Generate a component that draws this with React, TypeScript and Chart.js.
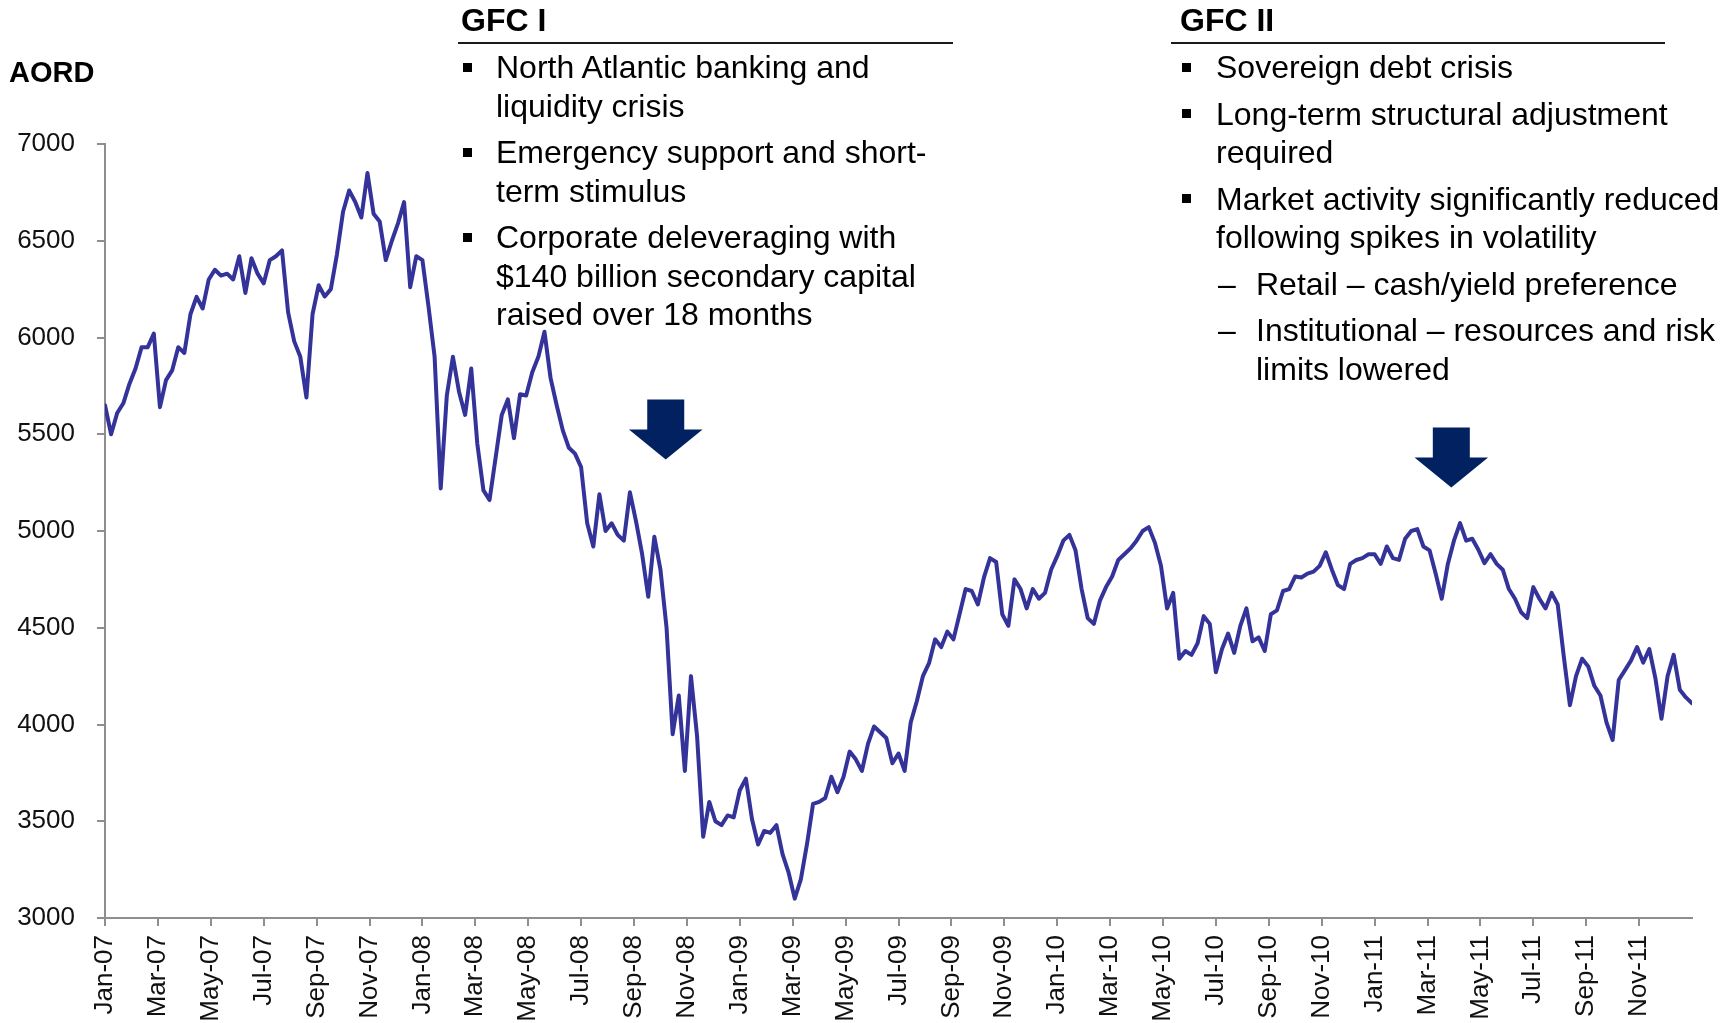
import React, { useEffect, useRef } from 'react';
import { Chart, registerables } from 'chart.js';

Chart.register(...registerables);

// ---- Data (weekly AORD readings, Jan 2007 – Dec 2011) ----
const xTickLabels = [
  'Jan-07', 'Mar-07', 'May-07', 'Jul-07', 'Sep-07', 'Nov-07',
  'Jan-08', 'Mar-08', 'May-08', 'Jul-08', 'Sep-08', 'Nov-08',
  'Jan-09', 'Mar-09', 'May-09', 'Jul-09', 'Sep-09', 'Nov-09',
  'Jan-10', 'Mar-10', 'May-10', 'Jul-10', 'Sep-10', 'Nov-10',
  'Jan-11', 'Mar-11', 'May-11', 'Jul-11', 'Sep-11', 'Nov-11',
];

const aord2007 = [
  5650, 5500, 5610, 5660, 5760, 5840, 5950, 5950, 6020, 5640, 5780, 5830, 5950,
  5920, 6120, 6210, 6150, 6300, 6350, 6320, 6330, 6300, 6420, 6230, 6410, 6330,
  6280, 6400, 6420, 6450, 6130, 5980, 5900, 5690, 6120, 6270, 6212, 6250, 6430,
  6650, 6760, 6700, 6620, 6850, 6640, 6600, 6400, 6500, 6590, 6700, 6260, 6420,
];
const aord2008 = [
  6400, 6160, 5900, 5220, 5700, 5900, 5720, 5600, 5840, 5450, 5210, 5160, 5380,
  5600, 5680, 5480, 5707, 5700, 5820, 5900, 6030, 5790, 5650, 5520, 5430, 5400,
  5330, 5040, 4920, 5190, 5000, 5040, 4980, 4950, 5200, 5050, 4880, 4660, 4970,
  4800, 4500, 3950, 4150, 3760, 4250, 3940, 3420, 3600, 3500, 3480, 3530, 3520,
];
const aord2009 = [
  3660, 3720, 3510, 3380, 3450, 3440, 3480, 3330, 3234, 3100, 3200, 3380, 3590,
  3600, 3620, 3730, 3650, 3730, 3860, 3820, 3760, 3900, 3990, 3960, 3930, 3800,
  3850, 3760, 4010, 4120, 4250, 4317, 4440, 4400, 4480, 4440, 4570, 4700, 4690,
  4620, 4760, 4860, 4840, 4570, 4510, 4750, 4700, 4600, 4700, 4650, 4680, 4800,
];
const aord2010 = [
  4870, 4950, 4980, 4900, 4700, 4550, 4520, 4640, 4710, 4765, 4850, 4880, 4910,
  4950, 5000, 5020, 4940, 4820, 4600, 4680, 4340, 4380, 4360, 4420, 4560, 4520,
  4270, 4390, 4470, 4370, 4510, 4600, 4430, 4450, 4380, 4570, 4590, 4690, 4700,
  4765, 4760, 4780, 4790, 4820, 4890, 4800, 4720, 4700, 4830, 4850, 4860, 4880,
];
const aord2011 = [
  4880, 4830, 4920, 4860, 4851, 4960, 5000, 5010, 4920, 4900, 4780, 4650, 4830,
  4950, 5041, 4950, 4960, 4903, 4834, 4880, 4830, 4800, 4700, 4650, 4580, 4550,
  4710, 4650, 4600, 4680, 4620, 4350, 4100, 4250, 4340, 4300, 4200, 4150, 4010,
  3920, 4230, 4280, 4330, 4400, 4320, 4390, 4240, 4030, 4250, 4360, 4180, 4140,
  4110,
];

// Arrow markers (tip position in data units: month index, AORD level)
const arrowTips = [
  { month: 21.2, value: 5370 },
  { month: 50.9, value: 5225 },
];

// Annotation texts
const yAxisTitle = 'AORD';
const gfc1Title = 'GFC I';
const gfc1Items = [
  ['North Atlantic banking and', 'liquidity crisis'],
  ['Emergency support and short-', 'term stimulus'],
  ['Corporate deleveraging with', '$140 billion secondary capital', 'raised over 18 months'],
];
const gfc2Title = 'GFC II';
const gfc2Items = [
  ['Sovereign debt crisis'],
  ['Long-term structural adjustment', 'required'],
  ['Market activity significantly reduced', 'following spikes in volatility'],
];
const gfc2SubItems = [
  ['Retail \u2013 cash/yield preference'],
  ['Institutional \u2013 resources and risk', 'limits lowered'],
];

const WEEKS_PER_YEAR = 52;
const weeklySeries = [...aord2007, ...aord2008, ...aord2009, ...aord2010, ...aord2011];

const FONT = "'Liberation Sans', Arial, Helvetica, sans-serif";
const LINE_COLOR = '#333399';
const AXIS_COLOR = '#8e8e8e';
const ARROW_COLOR = '#022160';
const TEXT_SIZE = 32;

const arrowPlugin = {
  id: 'gfcArrows',
  afterDatasetsDraw(chart: any) {
    const { ctx, scales } = chart;
    const xs = scales.x;
    const ys = scales.y;
    ctx.save();
    ctx.fillStyle = ARROW_COLOR;
    for (const a of arrowTips) {
      const tx = xs.getPixelForValue(a.month);
      const ty = ys.getPixelForValue(a.value);
      ctx.beginPath();
      ctx.moveTo(tx - 18.5, ty - 60);
      ctx.lineTo(tx + 18.5, ty - 60);
      ctx.lineTo(tx + 18.5, ty - 30);
      ctx.lineTo(tx + 36.8, ty - 30);
      ctx.lineTo(tx, ty);
      ctx.lineTo(tx - 36.8, ty - 30);
      ctx.lineTo(tx - 18.5, ty - 30);
      ctx.closePath();
      ctx.fill();
    }
    ctx.restore();
  },
};

function TextLine(props: { x: number; baseline: number; size?: number; bold?: boolean; children: any }) {
  const size = props.size ?? TEXT_SIZE;
  return (
    <div
      style={{
        position: 'absolute',
        left: props.x,
        top: props.baseline - 0.8465 * size,
        fontSize: size,
        lineHeight: `${size}px`,
        fontWeight: props.bold ? 'bold' : 'normal',
        whiteSpace: 'nowrap',
        color: '#000',
      }}
    >
      {props.children}
    </div>
  );
}

function Bullet(props: { x: number; baseline: number }) {
  return (
    <div
      style={{
        position: 'absolute',
        left: props.x,
        top: props.baseline - 15.5,
        width: 9,
        height: 9,
        background: '#000',
      }}
    />
  );
}

function Rule(props: { x1: number; x2: number; y: number }) {
  return (
    <div
      style={{
        position: 'absolute',
        left: props.x1,
        top: props.y - 1,
        width: props.x2 - props.x1,
        height: 2,
        background: '#1a1a1a',
      }}
    />
  );
}

export default function App() {
  const canvasRef = useRef<HTMLCanvasElement | null>(null);

  useEffect(() => {
    const canvas = canvasRef.current;
    if (!canvas) return;
    Chart.defaults.font.family = FONT;
    const points = weeklySeries.map((v, i) => ({ x: (i * 12) / WEEKS_PER_YEAR, y: v }));
    const chart = new Chart(canvas, {
      type: 'line',
      data: {
        datasets: [
          {
            label: 'AORD',
            data: points,
            borderColor: LINE_COLOR,
            backgroundColor: LINE_COLOR,
            borderWidth: 4,
            pointRadius: 0,
            tension: 0,
            fill: false,
            borderJoinStyle: 'round',
            borderCapStyle: 'round',
          },
        ],
      },
      options: {
        animation: false,
        responsive: false,
        maintainAspectRatio: false,
        layout: { padding: { top: 144, right: 40, left: 0, bottom: 0 } },
        plugins: {
          legend: { display: false },
          tooltip: { enabled: false },
        },
        scales: {
          x: {
            type: 'linear',
            min: 0,
            max: 60,
            afterBuildTicks: (s: any) => {
              s.ticks = xTickLabels.map((_, i) => ({ value: i * 2 }));
            },
            afterFit: (s: any) => {
              s.height = 105;
            },
            grid: {
              display: true,
              drawOnChartArea: false,
              drawTicks: true,
              tickLength: 8,
              color: AXIS_COLOR,
              lineWidth: 2,
            },
            border: { display: true, color: AXIS_COLOR, width: 2 },
            ticks: {
              autoSkip: false,
              maxRotation: 90,
              minRotation: 90,
              padding: 9,
              color: '#111',
              font: { size: 26, family: FONT },
              callback: (v: any) => xTickLabels[Math.round(Number(v) / 2)] ?? '',
            },
          },
          y: {
            min: 3000,
            max: 7000,
            afterFit: (s: any) => {
              s.width = 105;
            },
            grid: {
              display: true,
              drawOnChartArea: false,
              drawTicks: true,
              tickLength: 8,
              color: AXIS_COLOR,
              lineWidth: 2,
            },
            border: { display: true, color: AXIS_COLOR, width: 2 },
            ticks: {
              stepSize: 500,
              padding: 22,
              color: '#111',
              font: { size: 26, family: FONT },
              callback: (v: any) => String(v),
            },
          },
        },
      },
      plugins: [arrowPlugin],
    } as any);
    return () => chart.destroy();
  }, []);

  const lineH = 38.5;
  const itemGap = 46.5;

  // GFC I block layout
  const g1Lines: any[] = [];
  let b = 78.4;
  gfc1Items.forEach((item, ii) => {
    if (ii > 0) b += itemGap - lineH;
    g1Lines.push(<Bullet key={`g1b${ii}`} x={463} baseline={b} />);
    item.forEach((t, li) => {
      if (li > 0) b += lineH;
      g1Lines.push(<TextLine key={`g1t${ii}-${li}`} x={496} baseline={b}>{t}</TextLine>);
    });
    b += lineH;
  });

  // GFC II block layout
  const g2Lines: any[] = [];
  let b2 = 78.4;
  gfc2Items.forEach((item, ii) => {
    if (ii > 0) b2 += itemGap - lineH;
    g2Lines.push(<Bullet key={`g2b${ii}`} x={1182} baseline={b2} />);
    item.forEach((t, li) => {
      if (li > 0) b2 += lineH;
      g2Lines.push(<TextLine key={`g2t${ii}-${li}`} x={1216} baseline={b2}>{t}</TextLine>);
    });
    b2 += lineH;
  });
  gfc2SubItems.forEach((item, ii) => {
    b2 += itemGap - lineH;
    g2Lines.push(<TextLine key={`g2d${ii}`} x={1218} baseline={b2}>{'\u2013'}</TextLine>);
    item.forEach((t, li) => {
      if (li > 0) b2 += lineH;
      g2Lines.push(<TextLine key={`g2s${ii}-${li}`} x={1256} baseline={b2}>{t}</TextLine>);
    });
    b2 += lineH;
  });

  return (
    <div
      style={{
        position: 'fixed',
        left: 0,
        top: 0,
        width: 1732,
        height: 1023,
        background: '#fff',
        overflow: 'hidden',
        fontFamily: FONT,
      }}
    >
      <canvas
        ref={canvasRef}
        width={1732}
        height={1023}
        style={{ position: 'absolute', left: 0, top: 0, width: 1732, height: 1023 }}
      />
      <TextLine x={9} baseline={82.3} size={29} bold>{yAxisTitle}</TextLine>

      <TextLine x={461} baseline={31} bold>{gfc1Title}</TextLine>
      <Rule x1={458} x2={953} y={43} />
      {g1Lines}

      <TextLine x={1180} baseline={31} bold>{gfc2Title}</TextLine>
      <Rule x1={1171} x2={1665} y={43} />
      {g2Lines}
    </div>
  );
}
